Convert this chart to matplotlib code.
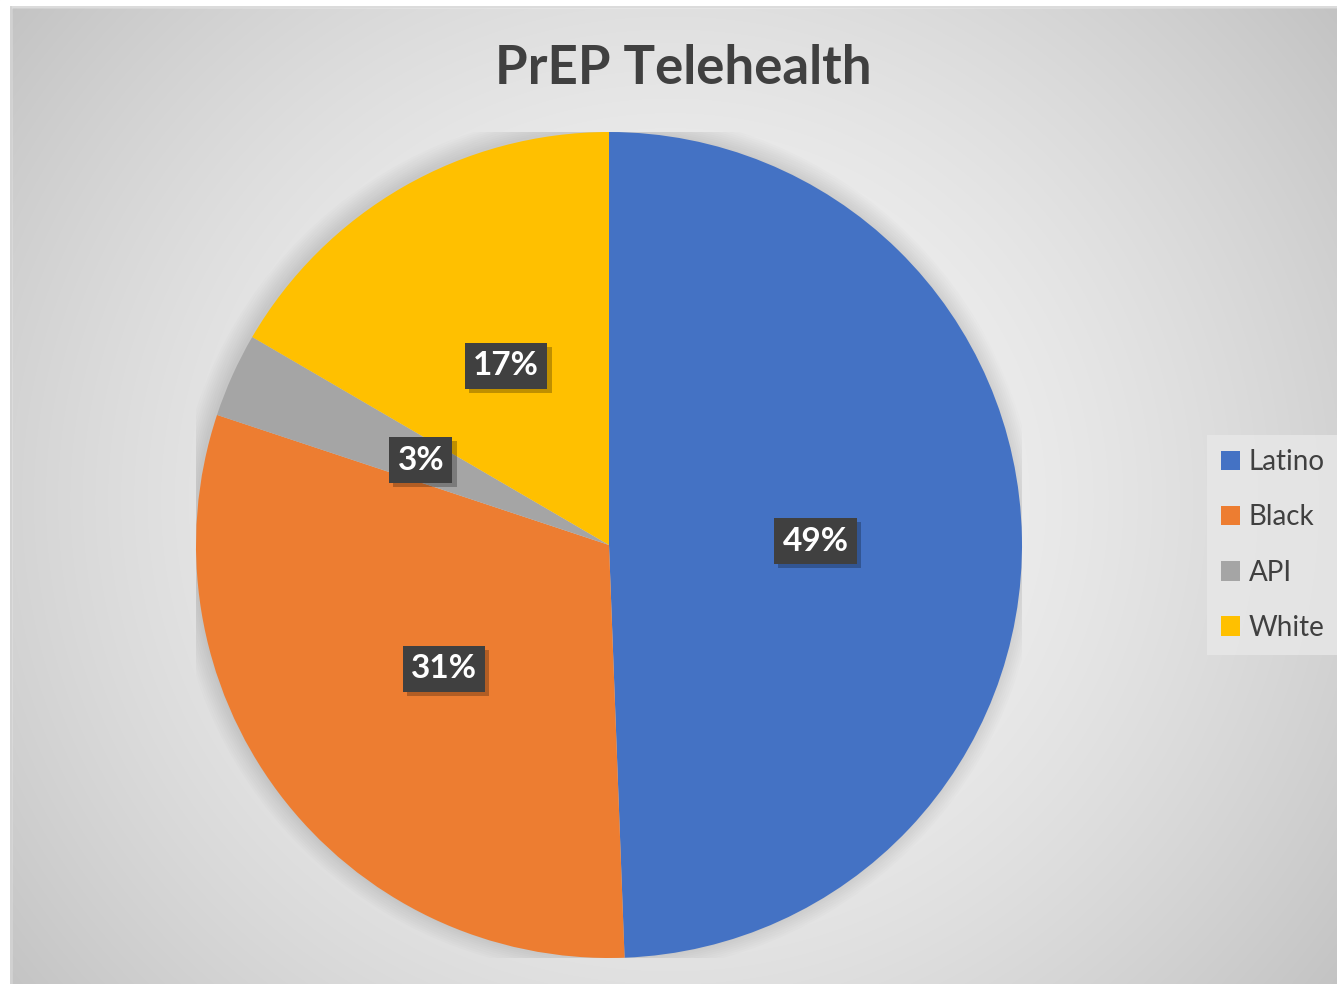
import numpy as np
import matplotlib
matplotlib.use("Agg")
import matplotlib.pyplot as plt
from matplotlib.patches import Rectangle, Circle
from matplotlib import patheffects as pe

# data (shares in percent)
groups = ['Latino', 'Black', 'API', 'White']
shares = [49.4, 30.7, 3.3, 16.6]
colors = ['#4472C4', '#ED7D31', '#A5A5A5', '#FFC000']

W, H = 1337, 984
fig = plt.figure(figsize=(W / 100, H / 100), dpi=100)
fig.patch.set_facecolor('white')

# radial gradient background of chart area
bg = fig.add_axes([0, 0, 1, 1])
bg.set_axis_off()
yy, xx = np.mgrid[0:H, 0:W]
d = np.hypot((xx - 670) / 1.0, (yy - 500) / 0.95) / 830.0
val = np.clip(0.97 - 0.2 * d ** 1.6, 0, 1)
img = np.dstack([val, val, val])
bg.imshow(img, extent=[0, W, H, 0], aspect='auto', zorder=0)
bg.add_patch(Rectangle((0, 0), 11, H, color='white', zorder=1))
bg.add_patch(Rectangle((0, 0), W, 7, color='white', zorder=1))
bg.plot([11, 11], [7, H], color='#c8c8c8', lw=1.2, zorder=2)
bg.plot([11, W], [7, 7], color='#d4d4d4', lw=1.2, zorder=2)
bg.set_xlim(0, W)
bg.set_ylim(H, 0)

# pie axes
cx, cy, r = 609, 545, 413
ax = fig.add_axes([(cx - r) / W, (H - cy - r) / H, 2 * r / W, 2 * r / H])
ax.set_axis_off()

# soft shadow around the pie
for k in range(10):
    ax.add_patch(Circle((-0.006, 0.006), 1 + 0.005 * k, color='black',
                        alpha=0.012, lw=0, zorder=0))

wedges, texts, autotexts = ax.pie(shares, colors=colors, startangle=90,
                                  counterclock=False, autopct='%1.0f%%',
                                  pctdistance=0.5, radius=1,
                                  wedgeprops={'linewidth': 0})
ax.set_xlim(-1, 1)
ax.set_ylim(-1, 1)
for w in wedges:
    w.set_zorder(2)
for t in autotexts:
    t.set_color('white')
    t.set_fontsize(24)
    t.set_fontweight('bold')
    t.set_family('Lato')
    t.set_zorder(5)
    t.set_bbox(dict(boxstyle='square,pad=0.25', facecolor='#404040',
                    edgecolor='none'))
    t.get_bbox_patch().set_path_effects(
        [pe.withSimplePatchShadow(offset=(3, -3), shadow_rgbFace='black', alpha=0.25)])

fig.text(0.511, 0.93, 'PrEP Telehealth', ha='center', va='center',
         fontsize=38, fontweight='bold', color='#404040', family='Lato')

# legend
leg = fig.legend(wedges, groups, loc='center left',
                 bbox_to_anchor=(1207 / W, 1 - 545 / H), frameon=True,
                 handlelength=0.7, handleheight=0.7, borderaxespad=0,
                 handletextpad=0.3, labelspacing=1.05, borderpad=0.5,
                 fancybox=False, prop={'family': 'Lato', 'size': 20})
leg.get_frame().set_facecolor('#e8e8e8')
leg.get_frame().set_edgecolor('none')
for txt in leg.get_texts():
    txt.set_color('#404040')

fig.savefig('out.png', dpi=100)
